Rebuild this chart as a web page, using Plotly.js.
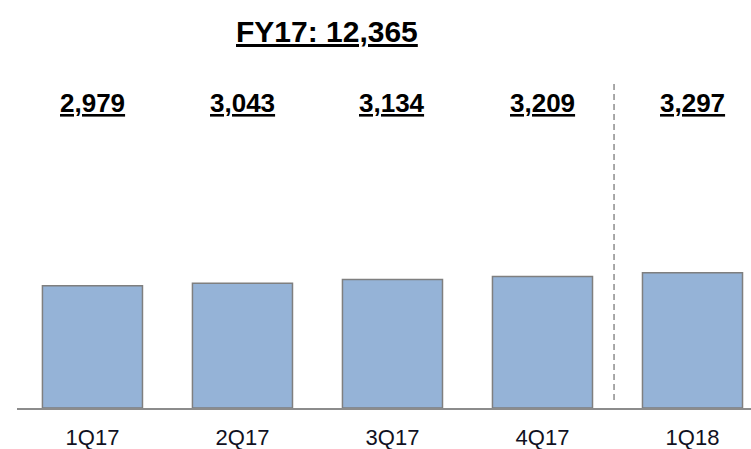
<!DOCTYPE html>
<html>
<head>
<meta charset="utf-8">
<script src="https://cdn.plot.ly/plotly-3.0.1.min.js"></script>
<style>html,body{margin:0;padding:0;background:#fff;}#chart{width:751px;height:449px;}</style>
</head>
<body>
<div id="chart"></div>
<script>
const categories = ["1Q17", "2Q17", "3Q17", "4Q17", "1Q18"];
const values = [2979, 3043, 3134, 3209, 3297];
const fyCategories = ["1Q17", "2Q17", "3Q17", "4Q17"];
const fyLabel = "FY17";

const fmt = v => v.toLocaleString("en-US");
const fyTotal = values.filter((v, i) => fyCategories.includes(categories[i])).reduce((a, b) => a + b, 0);

const FONT = "'Liberation Sans', Arial, sans-serif";

const trace = {
  type: "bar",
  x: categories.map((c, i) => i),
  y: values,
  width: 0.667,
  marker: { color: "#95B3D7", line: { color: "#7F7F7F", width: 1.5 } },
  hoverinfo: "skip"
};

const annotations = values.map((v, i) => ({
  x: i, xref: "x",
  y: 1 - 103 / 408, yref: "paper",
  yanchor: "middle", xanchor: "center",
  text: "<u>" + fmt(v) + "</u>",
  showarrow: false,
  font: { family: FONT, size: 26, color: "#000", weight: "bold" }
}));

annotations.push({
  x: (0 + fyCategories.length - 1) / 2 + 0.063, xref: "x",
  y: 1 - 32 / 408, yref: "paper",
  yanchor: "middle", xanchor: "center",
  text: "<u>" + fyLabel + ": " + fmt(fyTotal) + "</u>",
  showarrow: false,
  font: { family: FONT, size: 30, color: "#000", weight: "bold" }
});

const layout = {
  width: 751, height: 449,
  margin: { l: 17, r: 0, t: 0, b: 41, pad: 0 },
  paper_bgcolor: "#fff", plot_bgcolor: "#fff",
  showlegend: false,
  xaxis: {
    range: [-0.503, 4.39],
    tickmode: "array",
    tickvals: categories.map((c, i) => i),
    ticktext: categories,
    showline: true, linecolor: "#8C8C8C", linewidth: 2,
    showgrid: false, zeroline: false,
    ticks: "", ticklabelstandoff: 9,
    tickfont: { family: FONT, size: 22, color: "#111122" },
    fixedrange: true
  },
  yaxis: {
    range: [0, 9951],
    visible: false, showgrid: false, zeroline: false,
    fixedrange: true
  },
  shapes: [{
    type: "line", xref: "x", yref: "paper",
    x0: 3.477, x1: 3.477, y0: 1 - 400 / 408, y1: 1 - 83 / 408,
    line: { color: "#8C8C8C", width: 1.5, dash: "6px,4px" }
  }],
  annotations: annotations
};

Plotly.newPlot("chart", [trace], layout, { displayModeBar: false, staticPlot: true });
</script>
</body>
</html>
